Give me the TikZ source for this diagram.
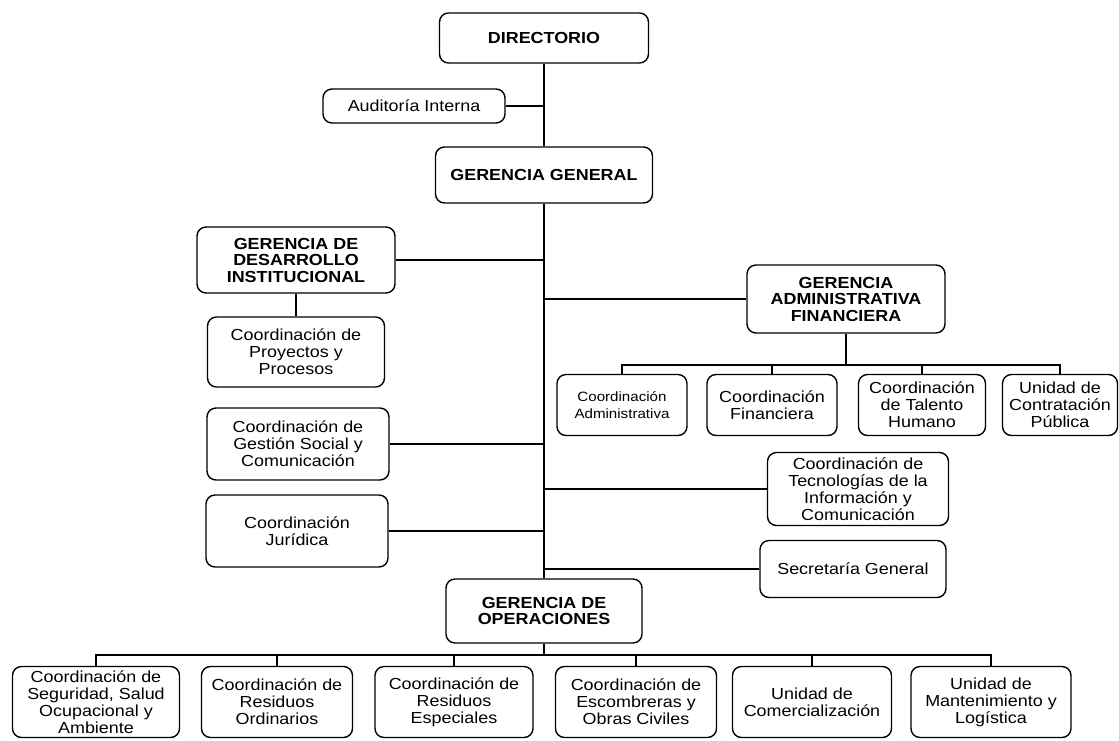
\documentclass[tikz,border=0pt]{standalone}
\usepackage{fontspec}
\setmainfont{Liberation Sans}[FakeStretch=1.12]
\tikzset{
    orgnode/.style = {draw=black, line width=1.4pt, rounded corners=9pt, align=center, inner sep=0pt, font=\fontsize{16}{17}\selectfont},
    orgnodeb/.style = {orgnode, font=\fontsize{16}{16.5}\selectfont\bfseries},
    orgnodes/.style = {orgnode, font=\fontsize{13.5}{16.5}\selectfont},
    edgen/.style = {-, line width=1.5pt, black},
}
\begin{document}
\begin{tikzpicture}[x=1pt, y=-1pt]
  \useasboundingbox (0,0) rectangle (1119,740);
  % main line
  \node[orgnodeb, minimum width=209pt, minimum height=50pt] (dir) at (544,38) {DIRECTORIO};
  \node[orgnode, minimum width=182pt, minimum height=34pt] (aud) at (414,106) {Auditoría Interna};
  \node[orgnodeb, minimum width=217pt, minimum height=56pt] (gg) at (544,175) {GERENCIA GENERAL};
  \node[orgnodeb, minimum width=196pt, minimum height=64pt] (go) at (544,611) {GERENCIA DE\\OPERACIONES};
  % left side
  \node[orgnodeb, minimum width=198pt, minimum height=66pt] (gdi) at (296,260) {GERENCIA DE\\DESARROLLO\\INSTITUCIONAL};
  \node[orgnode, minimum width=177pt, minimum height=70pt] (cpp) at (296,352) {Coordinación de\\Proyectos y\\Procesos};
  \node[orgnode, minimum width=182pt, minimum height=72pt] (cgs) at (298,444) {Coordinación de\\Gestión Social y\\Comunicación};
  \node[orgnode, minimum width=182pt, minimum height=72pt] (cju) at (297,531) {Coordinación\\Jurídica};
  % right side
  \node[orgnodeb, minimum width=198pt, minimum height=68pt] (gaf) at (846,299) {GERENCIA\\ADMINISTRATIVA\\FINANCIERA};
  \node[orgnodes, minimum width=130pt, minimum height=61pt] (cad) at (622,405) {Coordinación\\Administrativa};
  \node[orgnode, minimum width=130pt, minimum height=61pt] (cfi) at (772,405) {Coordinación\\Financiera};
  \node[orgnode, minimum width=127pt, minimum height=61pt] (cth) at (922,405) {Coordinación\\de Talento\\Humano};
  \node[orgnode, minimum width=115pt, minimum height=61pt] (ucp) at (1060,405) {Unidad de\\Contratación\\Pública};
  \node[orgnode, minimum width=181pt, minimum height=73pt] (tic) at (858,489) {Coordinación de\\Tecnologías de la\\Información y\\Comunicación};
  \node[orgnode, minimum width=186pt, minimum height=57pt] (sec) at (853,569) {Secretaría General};
  % operaciones
  \node[orgnode, minimum width=167pt, minimum height=71pt] (ssa) at (96,702) {Coordinación de\\Seguridad, Salud\\Ocupacional y\\Ambiente};
  \node[orgnode, minimum width=151pt, minimum height=71pt] (cro) at (277,702) {Coordinación de\\Residuos\\Ordinarios};
  \node[orgnode, minimum width=158pt, minimum height=71pt] (cre) at (454,702) {Coordinación de\\Residuos\\Especiales};
  \node[orgnode, minimum width=161pt, minimum height=71pt] (ceo) at (636,702) {Coordinación de\\Escombreras y\\Obras Civiles};
  \node[orgnode, minimum width=159pt, minimum height=71pt] (uco) at (812,702) {Unidad de\\Comercialización};
  \node[orgnode, minimum width=160pt, minimum height=71pt] (uml) at (991,702) {Unidad de\\Mantenimiento y\\Logística};
  \coordinate (fbar) at (846,365);
  \coordinate (obar) at (544,655);

  \draw[edgen] (dir.south) -- (gg.north);
  \draw[edgen] (gg.south) -- (go.north);
  \draw[edgen] (aud.east) -- (aud.east -| dir.south);
  \foreach \n in {gdi,cgs,cju}
    \draw[edgen] (\n.east) -- (\n.east -| gg.south);
  \foreach \n in {gaf,tic,sec}
    \draw[edgen] (\n.west) -- (\n.west -| gg.south);
  \draw[edgen] (gdi.south) -- (cpp.north);
  % financiera
  \draw[edgen] (gaf.south) -- (fbar);
  \draw[edgen] (cad.north) -- (cad.north |- fbar) -- (ucp.north |- fbar) -- (ucp.north);
  \foreach \n in {cfi,cth}
    \draw[edgen] (\n.north) -- (\n.north |- fbar);
  % operaciones
  \draw[edgen] (go.south) -- (obar);
  \draw[edgen] (ssa.north) -- (ssa.north |- obar) -- (uml.north |- obar) -- (uml.north);
  \foreach \n in {cro,cre,ceo,uco}
    \draw[edgen] (\n.north) -- (\n.north |- obar);
\end{tikzpicture}
\end{document}
